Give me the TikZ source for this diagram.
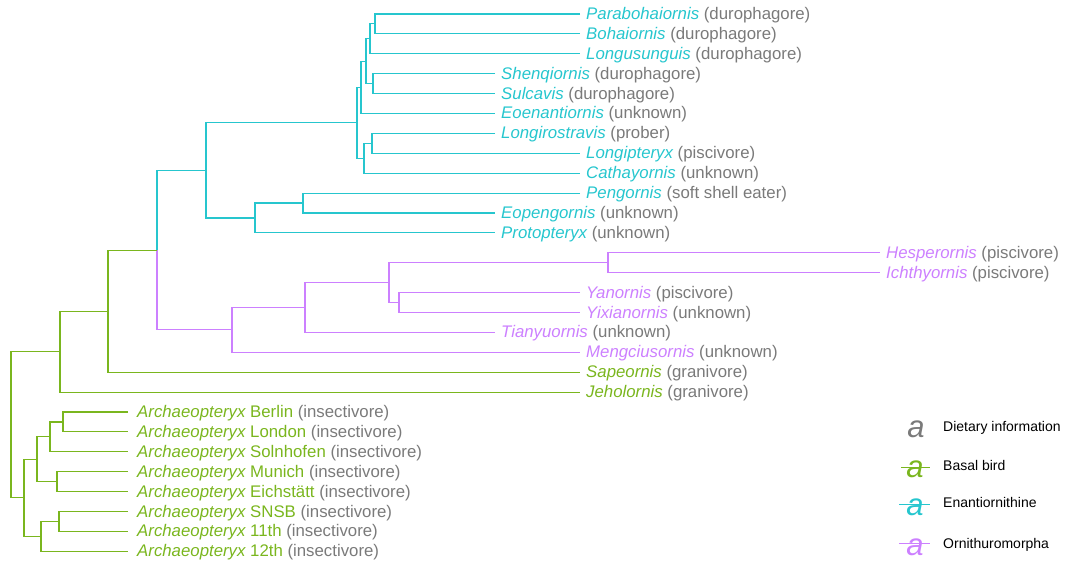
\documentclass[tikz,border=0pt]{standalone}
\usepackage{fontspec}
\setmainfont{Liberation Sans}
\usetikzlibrary{calc}
\definecolor{enc}{RGB}{38,198,206}
\definecolor{orc}{RGB}{204,128,255}
\definecolor{bac}{RGB}{122,182,30}
\definecolor{dic}{RGB}{122,122,122}
\newcommand\taxlab[3]{{\color{#1}\itshape #2}\ {\color{dic}#3}}
\begin{document}
\begin{tikzpicture}[x=1pt,y=-1pt,
  br/.style={line width=1.1pt, line join=miter},
  enl/.style={br, draw=enc},
  orl/.style={br, draw=orc},
  bal/.style={br, draw=bac},
  lab/.style={anchor=base west, inner sep=0pt, font=\fontsize{16.8}{18}\selectfont},
  lega/.style={anchor=base, inner sep=0pt, font=\fontsize{31}{34}\selectfont\itshape},
  legt/.style={anchor=base west, inner sep=0pt, font=\fontsize{14}{16}\selectfont, text=black},
  legs/.style={line width=1.1pt}]
\useasboundingbox (0,0) rectangle (1065,564);
% tips
\coordinate (t1) at (580,14);
\coordinate (t2) at (580,33.9);
\coordinate (t3) at (580,53.8);
\coordinate (t4) at (495,73.7);
\coordinate (t5) at (495,93.6);
\coordinate (t6) at (495,113.5);
\coordinate (t7) at (495,133.4);
\coordinate (t8) at (580,153.3);
\coordinate (t9) at (580,173.2);
\coordinate (t10) at (580,193.1);
\coordinate (t11) at (495,213.0);
\coordinate (t12) at (495,232.9);
\coordinate (t13) at (880,252.8);
\coordinate (t14) at (880,272.7);
\coordinate (t15) at (580,292.6);
\coordinate (t16) at (580,312.5);
\coordinate (t17) at (495,332.4);
\coordinate (t18) at (580,352.3);
\coordinate (t19) at (580,372.2);
\coordinate (t20) at (580,392.1);
\coordinate (t21) at (128,412.0);
\coordinate (t22) at (128,431.9);
\coordinate (t23) at (128,451.8);
\coordinate (t24) at (128,471.7);
\coordinate (t25) at (128,491.6);
\coordinate (t26) at (128,511.5);
\coordinate (t27) at (128,531.4);
\coordinate (t28) at (128,551.3);
% internal nodes
\coordinate (nA) at (375,23.95);
\coordinate (nB) at (370,38.88);
\coordinate (nC) at (373,83.65);
\coordinate (nD) at (366,61.26);
\coordinate (nE) at (361,87.38);
\coordinate (nF) at (372,143.35);
\coordinate (nG) at (364,158.28);
\coordinate (nH) at (357,122.83);
\coordinate (nI) at (303,203.05);
\coordinate (nJ) at (255,217.98);
\coordinate (nK) at (206,170.4);
\coordinate (nL) at (608,262.75);
\coordinate (nM) at (399,302.55);
\coordinate (nN) at (389,282.65);
\coordinate (nO) at (305,307.53);
\coordinate (nP) at (232,329.9);
\coordinate (nQ) at (157,250.15);
\coordinate (nR) at (108,311.18);
\coordinate (nS) at (60,351.64);
\coordinate (a1) at (63,421.95);
\coordinate (a2) at (50,436.88);
\coordinate (a3) at (57,481.65);
\coordinate (a4) at (37,459.26);
\coordinate (a5) at (59,521.45);
\coordinate (a6) at (41,536.38);
\coordinate (a7) at (24,497.82);
\coordinate (root) at (11,424.73);
% Enantiornithines
\draw[enl] (t1) -| (nA) |- (t2);
\draw[enl] (nA) -| (nB) |- (t3);
\draw[enl] (t4) -| (nC) |- (t5);
\draw[enl] (nB) -| (nD) |- (nC);
\draw[enl] (nD) -| (nE) |- (t6);
\draw[enl] (t7) -| (nF) |- (t8);
\draw[enl] (nF) -| (nG) |- (t9);
\draw[enl] (nE) -| (nH) |- (nG);
\draw[enl] (t10) -| (nI) |- (t11);
\draw[enl] (nI) -| (nJ) |- (t12);
\draw[enl] (nH) -| (nK) |- (nJ);
\draw[enl] (nK) -| (nQ);
% Ornithuromorpha
\draw[orl] (nQ) |- (nP);
\draw[orl] (t13) -| (nL) |- (t14);
\draw[orl] (t15) -| (nM) |- (t16);
\draw[orl] (nL) -| (nN) |- (nM);
\draw[orl] (nN) -| (nO) |- (t17);
\draw[orl] (nO) -| (nP) |- (t18);
% basal birds
\draw[bal] (nQ) -| (nR) |- (t19);
\draw[bal] (nR) -| (nS) |- (t20);
\draw[bal] (nS) -| (root) |- (a7);
\draw[bal] (a4) -| (a7) |- (a6);
\draw[bal] (a2) -| (a4) |- (a3);
\draw[bal] (a1) -| (a2) |- (t23);
\draw[bal] (t21) -| (a1) |- (t22);
\draw[bal] (t24) -| (a3) |- (t25);
\draw[bal] (a5) -| (a6) |- (t28);
\draw[bal] (t26) -| (a5) |- (t27);
% labels
\node[lab] (l1) at ($(t1)+(6,5.5)$) {\taxlab{enc}{Parabohaiornis}{(durophagore)}};
\node[lab] (l2) at ($(t2)+(6,5.5)$) {\taxlab{enc}{Bohaiornis}{(durophagore)}};
\node[lab] (l3) at ($(t3)+(6,5.5)$) {\taxlab{enc}{Longusunguis}{(durophagore)}};
\node[lab] (l4) at ($(t4)+(6,5.5)$) {\taxlab{enc}{Shenqiornis}{(durophagore)}};
\node[lab] (l5) at ($(t5)+(6,5.5)$) {\taxlab{enc}{Sulcavis}{(durophagore)}};
\node[lab] (l6) at ($(t6)+(6,5.5)$) {\taxlab{enc}{Eoenantiornis}{(unknown)}};
\node[lab] (l7) at ($(t7)+(6,5.5)$) {\taxlab{enc}{Longirostravis}{(prober)}};
\node[lab] (l8) at ($(t8)+(6,5.5)$) {\taxlab{enc}{Longipteryx}{(piscivore)}};
\node[lab] (l9) at ($(t9)+(6,5.5)$) {\taxlab{enc}{Cathayornis}{(unknown)}};
\node[lab] (l10) at ($(t10)+(6,5.5)$) {\taxlab{enc}{Pengornis}{(soft shell eater)}};
\node[lab] (l11) at ($(t11)+(6,5.5)$) {\taxlab{enc}{Eopengornis}{(unknown)}};
\node[lab] (l12) at ($(t12)+(6,5.5)$) {\taxlab{enc}{Protopteryx}{(unknown)}};
\node[lab] (l13) at ($(t13)+(6,5.5)$) {\taxlab{orc}{Hesperornis}{(piscivore)}};
\node[lab] (l14) at ($(t14)+(6,5.5)$) {\taxlab{orc}{Ichthyornis}{(piscivore)}};
\node[lab] (l15) at ($(t15)+(6,5.5)$) {\taxlab{orc}{Yanornis}{(piscivore)}};
\node[lab] (l16) at ($(t16)+(6,5.5)$) {\taxlab{orc}{Yixianornis}{(unknown)}};
\node[lab] (l17) at ($(t17)+(6,5.5)$) {\taxlab{orc}{Tianyuornis}{(unknown)}};
\node[lab] (l18) at ($(t18)+(6,5.5)$) {\taxlab{orc}{Mengciusornis}{(unknown)}};
\node[lab] (l19) at ($(t19)+(6,5.5)$) {\taxlab{bac}{Sapeornis}{(granivore)}};
\node[lab] (l20) at ($(t20)+(6,5.5)$) {\taxlab{bac}{Jeholornis}{(granivore)}};
\node[lab] (l21) at ($(t21)+(9,5.5)$) {\taxlab{bac}{Archaeopteryx}{{\color{bac}Berlin} (insectivore)}};
\node[lab] (l22) at ($(t22)+(9,5.5)$) {\taxlab{bac}{Archaeopteryx}{{\color{bac}London} (insectivore)}};
\node[lab] (l23) at ($(t23)+(9,5.5)$) {\taxlab{bac}{Archaeopteryx}{{\color{bac}Solnhofen} (insectivore)}};
\node[lab] (l24) at ($(t24)+(9,5.5)$) {\taxlab{bac}{Archaeopteryx}{{\color{bac}Munich} (insectivore)}};
\node[lab] (l25) at ($(t25)+(9,5.5)$) {\taxlab{bac}{Archaeopteryx}{{\color{bac}Eichstätt} (insectivore)}};
\node[lab] (l26) at ($(t26)+(9,5.5)$) {\taxlab{bac}{Archaeopteryx}{{\color{bac}SNSB} (insectivore)}};
\node[lab] (l27) at ($(t27)+(9,5.5)$) {\taxlab{bac}{Archaeopteryx}{{\color{bac}11th} (insectivore)}};
\node[lab] (l28) at ($(t28)+(9,5.5)$) {\taxlab{bac}{Archaeopteryx}{{\color{bac}12th} (insectivore)}};
% legend
\node[lega, text=dic] (g1) at (916,437) {a};
\node[legt] (g1t) at (943,431.7) {Dietary information};
\node[lega, text=bac] (g2) at (915,477.5) {a};
\node[legt] (g2t) at (943,470) {Basal bird};
\coordinate (s2a) at (901,467.7); \coordinate (s2b) at (930,467.7);
\draw[legs, bac] (s2a) -- (s2b);
\node[lega, text=enc] (g3) at (915,515.5) {a};
\node[legt] (g3t) at (943,507.7) {Enantiornithine};
\coordinate (s3a) at (899,504.5); \coordinate (s3b) at (930,504.5);
\draw[legs, enc] (s3a) -- (s3b);
\node[lega, text=orc] (g4) at (915,555.5) {a};
\node[legt] (g4t) at (943,548) {Ornithuromorpha};
\coordinate (s4a) at (899,543.5); \coordinate (s4b) at (930,543.5);
\draw[legs, orc] (s4a) -- (s4b);
\end{tikzpicture}
\end{document}
